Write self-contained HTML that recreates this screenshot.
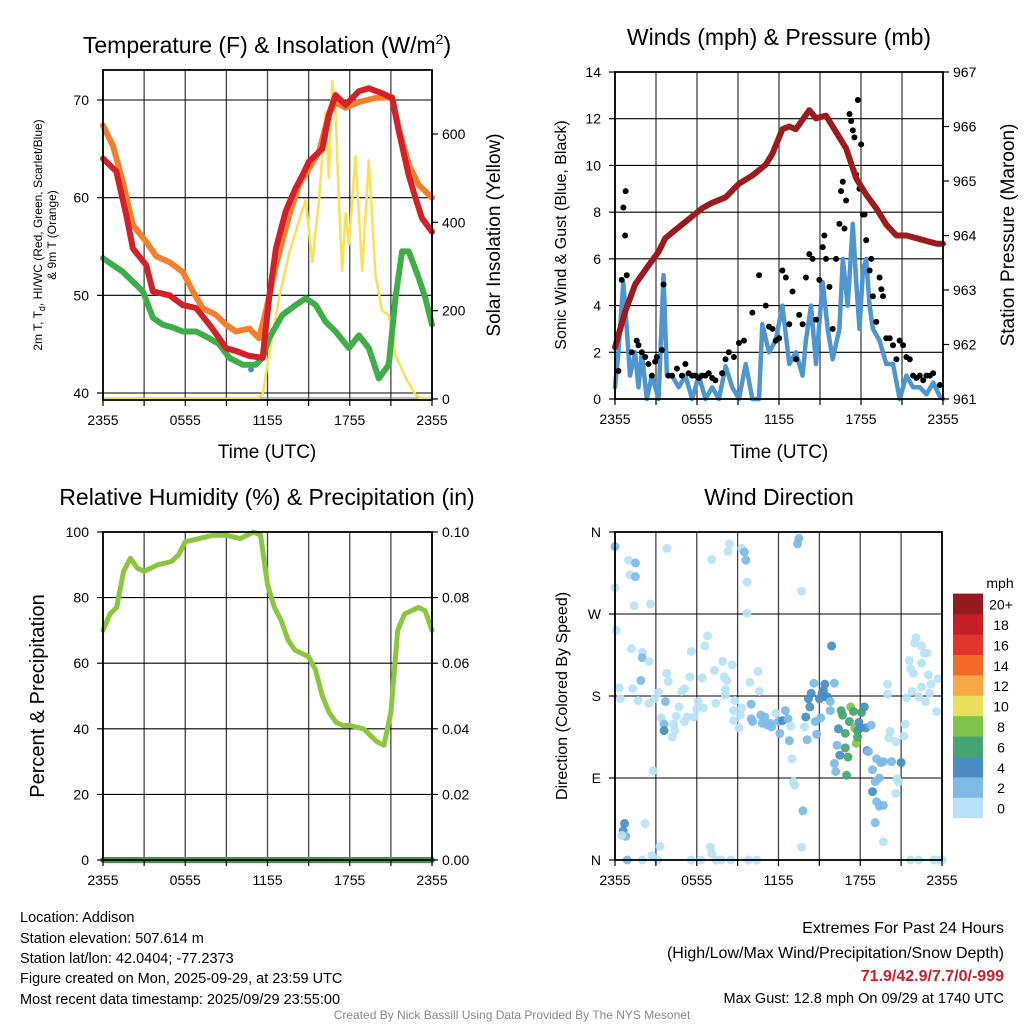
<!DOCTYPE html>
<html><head><meta charset="utf-8"><title>Addison Mesonet Meteogram</title>
<style>
html,body{margin:0;padding:0;background:#fff;}
svg{display:block;font-family:"Liberation Sans",Arial,sans-serif;}
</style></head>
<body>
<svg id="chart" width="1024" height="1024" viewBox="0 0 1024 1024" xmlns="http://www.w3.org/2000/svg">
<rect x="0" y="0" width="1024" height="1024" fill="#fff"/>
<g id="layer-grid"></g>
<g id="layer-data"></g>
<g id="layer-axes"></g>

<text x="267" y="53" font-size="23" text-anchor="middle">Temperature (F) &amp; Insolation (W/m<tspan dy="-9" font-size="14">2</tspan><tspan dy="9">)</tspan></text>
<text x="779" y="45" font-size="23" text-anchor="middle">Winds (mph) &amp; Pressure (mb)</text>
<text x="267" y="505" font-size="23" text-anchor="middle">Relative Humidity (%) &amp; Precipitation (in)</text>
<text x="779" y="505" font-size="23" text-anchor="middle">Wind Direction</text>

<text x="267" y="458" font-size="19" text-anchor="middle">Time (UTC)</text>
<text x="779" y="458" font-size="19" text-anchor="middle">Time (UTC)</text>

<text transform="translate(42,235) rotate(-90)" font-size="12" text-anchor="middle">2m T, T<tspan dy="3" font-size="9">d</tspan><tspan dy="-3">, HI/WC (Red, Green, Scarlet/Blue)</tspan></text>
<text transform="translate(56,235) rotate(-90)" font-size="12" text-anchor="middle">&amp; 9m T (Orange)</text>
<text transform="translate(500,235) rotate(-90)" font-size="19" text-anchor="middle">Solar Insolation (Yellow)</text>
<text transform="translate(566,235) rotate(-90)" font-size="16" text-anchor="middle">Sonic Wind &amp; Gust (Blue, Black)</text>
<text transform="translate(1014,235) rotate(-90)" font-size="19" text-anchor="middle">Station Pressure (Maroon)</text>
<text transform="translate(44,696) rotate(-90)" font-size="20" text-anchor="middle">Percent &amp; Precipitation</text>
<text transform="translate(567,696) rotate(-90)" font-size="16" text-anchor="middle">Direction (Colored By Speed)</text>

<text x="1000" y="588" font-size="14" text-anchor="middle">mph</text>

<g font-size="14.5">
<text x="20" y="922">Location: Addison</text>
<text x="20" y="943">Station elevation: 507.614 m</text>
<text x="20" y="963">Station lat/lon: 42.0404; -77.2373</text>
<text x="20" y="983">Figure created on Mon, 2025-09-29, at 23:59 UTC</text>
<text x="20" y="1004">Most recent data timestamp: 2025/09/29 23:55:00</text>
</g>
<g text-anchor="end">
<text x="1004" y="933" font-size="16">Extremes For Past 24 Hours</text>
<text x="1004" y="958" font-size="16">(High/Low/Max Wind/Precipitation/Snow Depth)</text>
<text x="1004" y="981" font-size="16" font-weight="bold" fill="#c8202a">71.9/42.9/7.7/0/-999</text>
<text x="1004" y="1003" font-size="14.5">Max Gust: 12.8 mph On 09/29 at 1740 UTC</text>
</g>
<text x="512" y="1019" font-size="12" fill="#888" text-anchor="middle">Created By Nick Bassill Using Data Provided By The NYS Mesonet</text>
</svg>
<script>
// ---------- data ----------
const timeTickLabels = ["2355","0555","1155","1755","2355"];
const tempTickLabels = [40,50,60,70];
const solarTickLabels = [0,200,400,600];
const windTickLabels = [0,2,4,6,8,10,12,14];
const pressureTickLabels = [961,962,963,964,965,966,967];
const rhTickLabels = [0,20,40,60,80,100];
const precipTickLabels = ["0.00","0.02","0.04","0.06","0.08","0.10"];
const dirTickLabels = ["N","E","S","W","N"];
const colorbarLabels = ["0","2","4","6","8","10","12","14","16","18","20+"];

const tempHours = [0,0.97,1.7,2.18,3.15,3.64,4.85,5.82,6.79,7.76,8.48,8.97,9.7,10.67,11.64,12.12,12.61,13.33,14.06,14.55,15.03,16,16.48,16.97,17.7,18.67,19.39,20.36,21.09,21.58,22.3,22.79,23.27,24];
const tempValues = [64,62.7,58.2,54.8,53.1,50.4,50,49,48.7,47,45.6,44.6,44.3,43.8,43.6,49.7,54.8,58.6,61,62.3,63.7,65,68.5,70.5,69.5,70.9,71.2,70.7,70.2,66.8,62.3,60,57.9,56.5];
const temp9mHours = [0,0.73,1.45,2.18,3.15,3.88,4.85,5.82,6.55,7.27,8.24,8.97,9.7,10.67,11.39,11.88,12.61,13.58,14.3,15.03,15.76,16.48,16.97,17.7,18.67,19.88,21.09,21.58,22.3,23.03,24];
const temp9mValues = [67.4,65.3,61.6,57.2,55.5,54,53.4,52.4,50.4,48.7,48,47,46.3,46.6,45.6,48.4,53.1,58.2,61.3,63,64.7,68.5,69.8,69.2,69.8,70.2,70.3,67.1,63.4,61.3,60];
const dewHours = [0,0.73,1.45,2.18,2.91,3.64,4.36,5.09,5.82,6.79,7.76,8.48,9.21,10.18,11.15,11.64,12.12,13.09,14.06,14.79,15.52,16.24,16.97,17.94,18.67,19.39,20.12,20.85,21.33,21.82,22.3,23.03,23.52,24];
const dewValues = [53.8,53.1,52.4,51.4,50.4,47.7,47,46.7,46.3,46.3,45.6,45,43.6,42.9,42.9,43.6,45.6,48,49,49.7,49,47.3,46.3,44.6,45.9,44.6,41.5,42.9,49.7,54.5,54.5,51.8,49.7,47];
const windChillHours = [10.8];
const windChillValues = [42.4];
const solarHours = [0,11.15,11.64,12.12,12.85,13.58,14.06,14.79,15.27,15.76,16.24,16.48,16.73,16.97,17.21,17.45,17.7,17.94,18.42,18.91,19.39,19.88,20.36,20.85,21.33,22.06,22.79,23.27,24];
const solarValues = [0,0,10,100,230,330,380,450,310,450,650,500,720,650,450,290,420,350,550,290,540,280,200,190,100,50,10,0,0];

const pressureHours = [0,0.74,1.47,2.45,3.19,3.68,4.41,5.39,6.37,7.11,8.09,9.07,10.05,11.03,11.52,12.25,12.75,13.24,14.22,14.71,15.44,16.18,16.91,17.65,18.38,19.12,19.85,20.59,21.32,22.06,22.79,23.53,24];
const pressureValues = [961.95,962.6,963.1,963.45,963.7,963.95,964.1,964.3,964.5,964.6,964.7,964.95,965.1,965.3,965.5,965.95,966.0,965.95,966.3,966.15,966.2,965.9,965.6,965.05,964.75,964.5,964.2,964.0,964.0,963.95,963.9,963.85,963.85];
const windHours = [0,0.25,0.61,0.86,1.1,1.47,1.72,1.96,2.33,2.7,3.19,3.55,3.8,4.17,4.66,5.15,5.64,6.13,6.62,7.11,7.6,8.09,8.58,9.07,9.56,10.05,10.54,10.78,11.27,11.76,12.25,12.75,13.24,13.73,13.97,14.34,14.71,15.2,15.56,15.93,16.42,16.67,17.03,17.4,17.65,17.89,18.14,18.38,18.63,18.87,19.36,19.85,20.34,20.83,21.32,21.81,22.3,22.79,23.28,23.77,24];
const windValues = [0.5,2,5,3,1,2,0.5,2,0,1,0,5.3,1,1,0.5,1,0,1,0,0.5,0,1.4,0.5,0,1.5,0,0,3.2,2,2.5,4,1.5,2,1,2.5,4,1.5,5,3,1.7,3,6,4,7.5,5,3,5.5,6,4,3,2.5,1.5,1.5,0,1,0.5,0.5,0.2,0.7,0.1,0];
const gustHours = [0.25,0.49,0.61,0.74,0.78,0.86,1.23,1.59,1.72,1.96,2.21,2.45,2.7,2.94,3.06,3.43,3.55,3.92,4.17,4.53,4.9,5.15,5.39,5.64,5.88,6.13,6.37,6.62,6.86,7.11,7.35,7.84,8.09,8.33,8.7,9.07,9.44,10.05,10.54,11.03,11.27,11.52,11.76,12.01,12.25,12.5,12.75,12.99,13.24,13.48,13.73,13.97,14.22,14.46,14.71,14.95,15.2,15.32,15.44,15.69,15.93,16.18,16.42,16.54,16.67,16.79,16.91,17.16,17.28,17.4,17.52,17.65,17.77,17.89,18.01,18.14,18.26,18.38,18.63,18.75,18.87,19.12,19.36,19.49,19.61,19.85,20.1,20.34,20.59,20.83,21.08,21.32,21.57,21.81,22.06,22.3,22.55,22.79,23.04,23.28,23.77];
const gustValues = [1.2,5.1,8.2,7,8.9,5.3,2,2.5,2.3,2,1.8,1.5,1,1.6,1.8,2.1,4.9,1,1,1.3,1,1.5,1.1,1,1,0.9,1,1,1.1,0.9,0.8,1.1,1.7,2,1.8,2.4,2.5,3.7,5.3,4,3.1,3,2.5,2.6,5.5,5.2,3.2,4.6,1.7,3.6,3.2,5.2,6.2,6,3.4,5.1,6.5,7,6,4.8,3,6,7.5,8.9,9.3,7.3,8.5,12.2,11.9,11.5,11.2,9.6,12.8,9,10.9,7.9,7.9,6.8,5.5,6,4.4,3.3,5.2,4.7,4.4,2.6,2.6,2.3,1.7,2.5,2.3,1.8,1.7,1,0.9,1,0.8,1,1,1.1,0.6];

const rhHours = [0,0.5,1,1.5,2,2.5,3,4,5,5.5,6,7,8,9,10,11,11.5,12,12.5,13,13.5,14,15,15.5,16,16.5,17,17.5,18,19,20,20.5,21,21.5,22,23,23.5,24];
const rhValues = [70,75,77,88,92,89,88,90,91,93,97,98,99,99,98,100,99,84,77,73,67,64,62,58,50,45,42,41,41,40,36,35,45,70,75,77,76,70];
const precipHours = [0,24];
const precipValues = [0,0];

const dirHours = [0.0,1.0,1.5,1.1,1.5,0.0,1.4,2.6,3.8,7.1,8.4,8.3,9.3,9.5,9.6,9.7,9.7,13.5,13.4,13.7,
0.1,1.2,2.0,2.0,2.5,1.9,0.3,1.3,0.4,1.7,2.5,2.9,3.2,3.7,3.9,3.8,3.4,3.6,3.6,4.3,4.2,4.4,4.5,4.7,4.9,5.1,5.1,5.3,5.5,5.6,5.8,6.0,6.1,6.4,6.5,6.6,6.8,7.3,7.4,7.9,8.0,8.1,8.2,8.1,8.6,8.7,8.8,8.7,9.1,9.2,9.3,9.9,10.0,10.0,10.1,10.5,10.6,10.7,10.8,11.0,11.2,11.4,11.5,11.8,12.0,12.1,12.3,12.5,12.7,12.8,12.9,13.0,13.1,13.2,13.8,13.7,13.9,14.0,14.1,14.2,14.3,14.4,14.6,14.7,14.8,15.1,15.0,15.2,15.3,15.4,15.4,15.6,15.8,15.9,16.1,15.8,16.1,16.3,16.4,16.5,16.2,16.6,16.7,16.9,16.9,17.1,17.0,17.2,17.3,17.5,17.6,17.7,17.8,17.8,17.9,18.0,18.1,18.3,18.4,18.5,18.6,18.8,18.9,18.9,19.1,19.2,19.2,19.4,19.4,19.5,19.7,19.7,19.1,19.7,20.0,20.0,20.2,20.1,20.3,20.6,20.7,20.8,21.0,20.6,21.2,21.3,21.4,21.6,21.7,21.8,21.9,22.1,22.0,22.5,22.3,22.5,22.7,22.9,22.5,22.8,23.0,23.1,23.2,23.6,23.7,
0.7,0.6,0.8,0.5,2.8,2.2,0.9,2.0,2.7,3.1,3.3,5.6,6.3,7.0,7.1,7.4,7.8,8.5,9.8,10.4,21.7,22.3,23.4,23.8,24];
const dirDegrees = [344,329,326,313,311,299,279,281,342,330,347,339,342,338,329,305,271,353,347,295,
252,232,228,222,218,197,189,188,177,175,172,177,184,174,196,205,156,149,142,149,135,142,158,168,185,188,152,157,201,229,157,166,174,200,167,235,246,208,172,218,201,187,197,181,214,164,175,153,145,159,167,195,171,155,152,207,185,159,150,157,148,150,146,161,152,139,153,164,155,131,147,111,86,82,54,14,146,157,132,177,168,183,194,152,138,156,177,183,186,193,179,179,174,235,194,164,106,126,144,115,97,164,159,139,123,113,93,152,168,163,145,128,135,142,151,145,162,168,145,120,119,148,75,99,86,64,111,90,59,107,60,108,41,20,193,182,141,134,108,130,89,86,107,73,136,149,178,219,210,185,205,244,238,190,179,235,227,227,216,174,203,183,193,163,199,
40,32,26,27,98,40,0,0,5,0,15,0,0,14,7,0,0,0,0,0,0,0,0,0,0];
const dirSpeeds = [2.5,1,3.5,1,3.5,1,1,1,1,1,1,1,1,3.5,3.5,1,1,3.5,3.5,1,
1,1,1,3.5,1,3.5,1,1,1,1,1,1,1,3.5,1,1,1,3.5,5,
1,1,1,1,1,1,1,1,1,1,1,1,1,1,1,1,1,1,1,1,1,1,1,1,1,1,1,1,1,1,1,1,1,
3.5,2.5,2.5,1,1,2.5,2.5,2.5,2.5,2.5,2.5,1,2.5,3.5,5,3.5,3.5,3.5,1,1,1,1,3.5,1,1,5,3.5,5,5,5,3.5,3.5,3.5,3.5,5,5,5,5,5,5,3.5,5,3.5,3.5,3.5,3.5,5,5,3.5,
7,7,7,7,7,7,7,9,7,9,9,7,7,5,5,7,5,5,5,3.5,3.5,5,
3.5,3.5,3.5,3.5,3.5,3.5,3.5,3.5,3.5,3.5,
1,1,1,1,1,3.5,1,1,1,5,
1,1,1,1,1,1,1,1,1,1,1,1,1,1,1,1,1,1,1,1,1,1,
5,5,3.5,1,1,1,3.5,1,1,1,1,1,1,1,1,1,1,1,1,1,1,1,1,1,1];
const speedColors = ["#b9e2f7","#7dbbe5","#4a8dc6","#45a570","#7ec44b","#e8e05a","#f8a845","#f26a2a","#e1372b","#c41f27","#971a1e"];

// ---------- helpers ----------
const NS = "http://www.w3.org/2000/svg";
const gridL = document.getElementById('layer-grid');
const dataL = document.getElementById('layer-data');
const axL = document.getElementById('layer-axes');
function mk(tag, attrs, parent){ const e=document.createElementNS(NS,tag); for(const k in attrs) e.setAttribute(k,attrs[k]); parent.appendChild(e); return e; }
function linScale(d0,d1,r0,r1){ return v => r0 + (v-d0)*(r1-r0)/(d1-d0); }

const panels = {
  temp:{L:103,R:432,T:70,B:400},
  wind:{L:615,R:943,T:72,B:399},
  rh:{L:103,R:432,T:532,B:860},
  dir:{L:615,R:942,T:532,B:860}
};
const xT = linScale(0,24,panels.temp.L,panels.temp.R);
const xW = linScale(0,24,panels.wind.L,panels.wind.R);
const xR = linScale(0,24,panels.rh.L,panels.rh.R);
const xD = linScale(0,24,panels.dir.L,panels.dir.R);
const yTemp = linScale(40,70,393,100);
const ySolar = linScale(0,600,399,134);
const yWind = linScale(0,14,399,72);
const yPres = linScale(961,967,399,72);
const yRH = linScale(0,100,860,532);
const yPrecip = linScale(0,0.10,860,532);
const yDir = linScale(0,360,860,532);

function polyline(xs, ys, xf, yf, color, w, name, parent){
  const n=Math.min(xs.length,ys.length); let pts=[];
  for(let i=0;i<n;i++) pts.push(xf(xs[i]).toFixed(1)+","+yf(ys[i]).toFixed(1));
  const el=mk('polyline',{points:pts.join(' '),fill:'none',stroke:color,'stroke-width':w,'stroke-linejoin':'round','stroke-linecap':'round'},parent||dataL);
  
  
  return el;
}

function frame(p, key, hTicks, yf){
  for(let h=0;h<=24;h+=3){
    const x = p.L + h*(p.R-p.L)/24;
    const g=mk('line',{x1:x,x2:x,y1:p.T,y2:p.B,stroke:'#444','stroke-width':1.3},gridL);
    
    
    const t=mk('line',{x1:x,x2:x,y1:p.B,y2:p.B+6,stroke:'#000','stroke-width':1.2},axL);
    
    
  }
  hTicks.forEach(v=>{
    const y=yf(v);
    const g=mk('line',{x1:p.L,x2:p.R,y1:y,y2:y,stroke:'#000','stroke-width':1.1},gridL);
    
    
  });
  const r=mk('rect',{x:p.L,y:p.T,width:p.R-p.L,height:p.B-p.T,fill:'none',stroke:'#000','stroke-width':1.8},axL);
  
  
  timeTickLabels.forEach((lab,i)=>{
    const h=i*6; const x=p.L + h*(p.R-p.L)/24;
    const tx=mk('text',{x:x,y:p.B+25,'font-size':14,'text-anchor':'middle'},axL);
    tx.textContent=lab;
    
    
  });
}
function yLabels(p,key,vals,labels,yf,side){
  vals.forEach((v,i)=>{
    const y=yf(v);
    const x0 = side==='left'?p.L:p.R;
    const dx = side==='left'?-6:6;
    const t=mk('line',{x1:x0,x2:x0+dx,y1:y,y2:y,stroke:'#000','stroke-width':1.2},axL);
    
    
    const tx=mk('text',{x:side==='left'?p.L-14:p.R+10,y:y+5,'font-size':14,'text-anchor':side==='left'?'end':'start'},axL);
    tx.textContent=labels[i];
    
    
  });
}

// ---------- Panel 1: temperature ----------
frame(panels.temp,'temperature',tempTickLabels,yTemp);
{const g=mk('line',{x1:103,x2:432,y1:ySolar(0)-1,y2:ySolar(0)-1,stroke:'#777','stroke-width':1},gridL);

}
yLabels(panels.temp,'temperature',tempTickLabels,tempTickLabels,yTemp,'left');
yLabels(panels.temp,'solar',solarTickLabels,solarTickLabels,ySolar,'right');
polyline(solarHours,solarValues,xT,ySolar,'#fbe05c',2.6,'solar-insolation-line');
polyline(dewHours,dewValues,xT,yTemp,'#3fae49',6,'dewpoint-line');
polyline(temp9mHours,temp9mValues,xT,yTemp,'#f47f2f',6,'temperature-9m-line');
polyline(tempHours,tempValues,xT,yTemp,'#d42027',6,'temperature-2m-line');
windChillHours.forEach((h,i)=>{
  const c=mk('circle',{cx:xT(h),cy:yTemp(windChillValues[i]),r:3,fill:'#4a90c8'},dataL);
  
  
});

// ---------- Panel 2: wind ----------
frame(panels.wind,'winds',windTickLabels,yWind);
yLabels(panels.wind,'wind',windTickLabels,windTickLabels,yWind,'left');
yLabels(panels.wind,'pressure',pressureTickLabels,pressureTickLabels,yPres,'right');
polyline(windHours,windValues,xW,yWind,'#4f96d1',4.5,'wind-speed-line');
gustHours.forEach((h,i)=>{
  const c=mk('circle',{cx:xW(h),cy:yWind(gustValues[i]),r:3,fill:'#000'},dataL);
  
  
});
polyline(pressureHours,pressureValues,xW,yPres,'#9b1b1f',6,'pressure-line');

// ---------- Panel 3: humidity ----------
frame(panels.rh,'humidity',rhTickLabels,yRH);
yLabels(panels.rh,'humidity',rhTickLabels,rhTickLabels,yRH,'left');
yLabels(panels.rh,'precip',[0,0.02,0.04,0.06,0.08,0.10],precipTickLabels,yPrecip,'right');
polyline(rhHours,rhValues,xR,yRH,'#8cc63f',5,'relative-humidity-line');
polyline(precipHours,precipValues,xR,yPrecip,'#3a9a3d',6,'precipitation-line');

// ---------- Panel 4: direction ----------
frame(panels.dir,'direction',[0,90,180,270,360],yDir);
yLabels(panels.dir,'direction',[0,90,180,270,360],dirTickLabels,yDir,'left');
dirHours.forEach((h,i)=>{
  const s = dirSpeeds[i]===undefined?1:dirSpeeds[i];
  const bin = Math.min(10,Math.floor(s/2));
  const c=mk('circle',{cx:xD(h),cy:yDir(dirDegrees[i]),r:4.5,fill:speedColors[bin],opacity:0.92},dataL);
  
  
});
colorbarLabels.forEach((lab,i)=>{
  const y0 = 818 - (i+1)*20.4;
  const r=mk('rect',{x:953,y:y0,width:30,height:20.6,fill:speedColors[i]},axL);
  
  
  const t=mk('text',{x:1001,y:y0+16,'font-size':14,'text-anchor':'middle'},axL);
  t.textContent=lab;
  
  
});
</script>
</body></html>
